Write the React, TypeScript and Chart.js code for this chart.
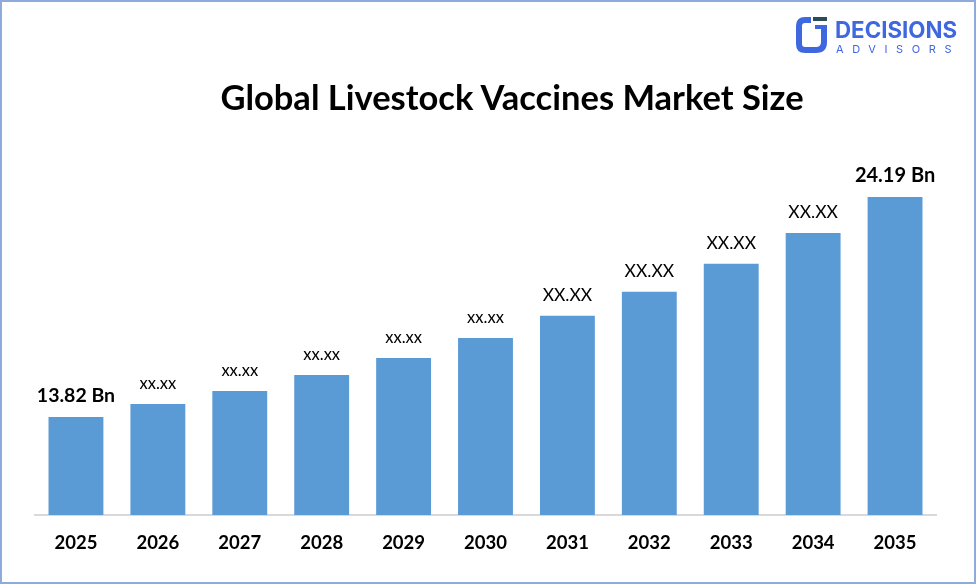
import { useEffect, useRef } from 'react'
import { Chart, registerables } from 'chart.js'

Chart.register(...registerables)

const YEARS = ['2025', '2026', '2027', '2028', '2029', '2030', '2031', '2032', '2033', '2034', '2035']
const MARKET_SIZE = [13.82, 14.43, 15.05, 15.8, 16.6, 17.55, 18.59, 19.72, 21.04, 22.5, 24.19]
const BAR_LABELS = ['13.82 Bn', 'xx.xx', 'xx.xx', 'xx.xx', 'xx.xx', 'xx.xx', 'XX.XX', 'XX.XX', 'XX.XX', 'XX.XX', '24.19 Bn']
const LABEL_FONTS = [
  'bold 19.5px Lato',
  '16.5px Lato',
  '16.5px Lato',
  '16.5px Lato',
  '16.5px Lato',
  '16.5px Lato',
  '17.5px Lato',
  '17.5px Lato',
  '17.5px Lato',
  '17.5px Lato',
  'bold 20px Lato',
]

const barLabels = {
  id: 'barLabels',
  afterDatasetsDraw(chart: Chart) {
    const { ctx } = chart
    const bars = chart.getDatasetMeta(0).data
    ctx.save()
    ctx.fillStyle = '#000000'
    ctx.textAlign = 'center'
    ctx.textBaseline = 'alphabetic'
    bars.forEach((bar, i) => {
      ctx.font = LABEL_FONTS[i]
      ctx.fillText(BAR_LABELS[i], bar.x, bar.y - 15)
    })
    ctx.restore()
  },
}

export default function App() {
  const chartRef = useRef<HTMLCanvasElement>(null)

  useEffect(() => {
    document.body.style.margin = '0'
    if (!chartRef.current) return

    const chart = new Chart(chartRef.current, {
      type: 'bar',
      data: {
        labels: YEARS,
        datasets: [
          {
            data: MARKET_SIZE,
            backgroundColor: '#5B9BD5',
            barPercentage: 0.67,
            categoryPercentage: 1,
          },
        ],
      },
      options: {
        responsive: false,
        animation: false,
        layout: { padding: { left: 35, right: 41, top: 130, bottom: 0 } },
        plugins: {
          legend: { display: false },
          title: { display: false },
          tooltip: { enabled: false },
        },
        scales: {
          x: {
            grid: { display: false },
            border: { display: true, color: '#D9D9D9', width: 2 },
            ticks: {
              color: '#000000',
              font: { family: 'Lato', size: 18.5, weight: 'bold' },
              padding: 9,
              maxRotation: 0,
            },
            afterFit: (scale) => {
              scale.height = 69
            },
          },
          y: {
            display: false,
            min: 9.2,
            max: 27.35,
          },
        },
      },
      plugins: [barLabels],
    })

    return () => chart.destroy()
  }, [])

  return (
    <div style={{ position: 'relative', width: 977, height: 584, background: '#ffffff', overflow: 'hidden' }}>
      <canvas ref={chartRef} width={977} height={584} style={{ position: 'absolute', left: 0, top: 0 }} />

      {/* frame */}
      <div
        style={{
          position: 'absolute',
          left: 0,
          top: 0,
          width: 976,
          height: 584,
          boxSizing: 'border-box',
          border: '2px solid #8FAADC',
        }}
      />

      <div
        style={{
          position: 'absolute',
          left: 112,
          width: 800,
          top: 75,
          textAlign: 'center',
          fontFamily: 'Lato',
          fontWeight: 700,
          fontSize: 34.5,
          lineHeight: '44px',
          color: '#000000',
        }}
      >
        Global Livestock Vaccines Market Size
      </div>

      {/* logo */}
      <svg style={{ position: 'absolute', left: 790, top: 10 }} width={60} height={50}>
        <path d="M21 10 H15 Q9 10 9 16 V34 Q9 40 15 40 H26 Q34 40 34 32 V19" fill="none" stroke="#3F67E0" strokeWidth={6} />
        <rect x={23} y={7} width={14} height={4} fill="#2A4B5C" />
        <rect x={25} y={15} width={12} height={4} fill="#3F67E0" />
      </svg>
      <div
        style={{
          position: 'absolute',
          left: 835,
          top: 17,
          fontFamily: 'Inter',
          fontWeight: 700,
          fontSize: 22.3,
          lineHeight: '26px',
          color: '#3F67E0',
        }}
      >
        DECISIONS
      </div>
      <div
        style={{
          position: 'absolute',
          left: 836,
          top: 42,
          fontFamily: 'Inter',
          fontSize: 11,
          letterSpacing: 8.6,
          lineHeight: '14px',
          color: '#3F67E0',
        }}
      >
        ADVISORS
      </div>
    </div>
  )
}
